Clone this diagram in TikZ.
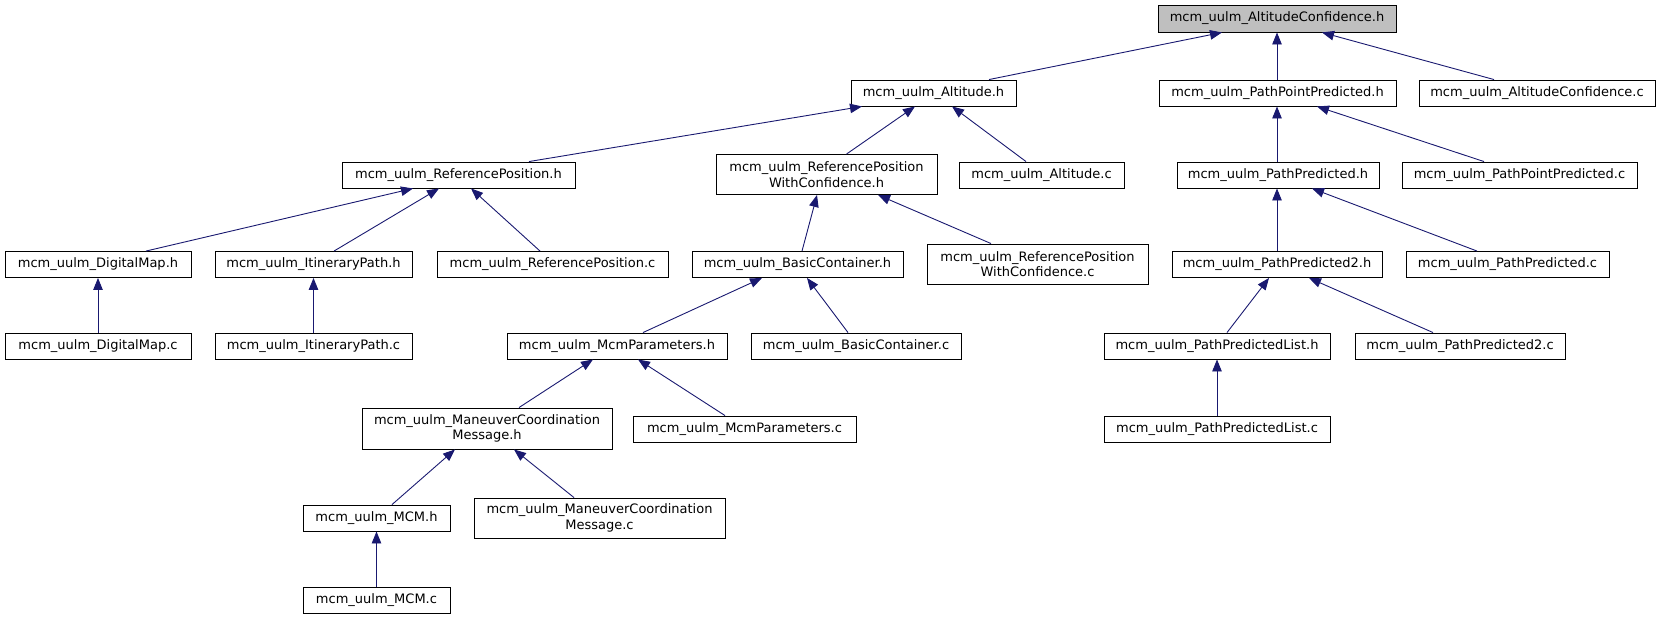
\documentclass[tikz,border=0pt]{standalone}
\usepackage{fontspec}
\setmainfont{DejaVu Sans}
\usetikzlibrary{arrows.meta}
\definecolor{edgecol}{HTML}{191970}
\definecolor{rootfill}{HTML}{BFBFBF}
\tikzset{
  box/.style={draw=black, line width=0.9pt, fill=white, inner sep=0pt, align=center,
    minimum height=26pt, font=\fontsize{13}{15.5}\selectfont},
  twoline/.style={minimum height=40pt},
  root/.style={fill=rootfill},
  edge/.style={draw=edgecol, line width=0.9pt, -{Triangle[length=12pt,width=9.5pt]}},
}
\begin{document}
\begin{tikzpicture}[x=1pt,y=-1pt]
\useasboundingbox (0,0) rectangle (1661,619);
% nodes
\node[box,root,minimum width=238pt,minimum height=27pt] (ach) at (1277,18.5) {mcm\_uulm\_AltitudeConfidence.h};
\node[box,minimum width=165pt] (alth) at (933.5,93) {mcm\_uulm\_Altitude.h};
\node[box,minimum width=237pt] (ppph) at (1277.5,93) {mcm\_uulm\_PathPointPredicted.h};
\node[box,minimum width=236pt] (acc) at (1537,93) {mcm\_uulm\_AltitudeConfidence.c};
\node[box,minimum width=233pt] (rph) at (458.5,175) {mcm\_uulm\_ReferencePosition.h};
\node[box,twoline,minimum width=221pt] (rpwch) at (826.5,174.5) {mcm\_uulm\_ReferencePosition\\WithConfidence.h};
\node[box,minimum width=165pt] (altc) at (1041.5,175) {mcm\_uulm\_Altitude.c};
\node[box,minimum width=202pt] (pph) at (1278,175) {mcm\_uulm\_PathPredicted.h};
\node[box,minimum width=235pt] (pppc) at (1519.5,175) {mcm\_uulm\_PathPointPredicted.c};
\node[box,minimum width=186pt] (dmh) at (98,264.5) {mcm\_uulm\_DigitalMap.h};
\node[box,minimum width=197pt] (iph) at (313.5,264.5) {mcm\_uulm\_ItineraryPath.h};
\node[box,minimum width=231pt] (rpc) at (552.5,264.5) {mcm\_uulm\_ReferencePosition.c};
\node[box,minimum width=211pt] (bch) at (797.5,264.5) {mcm\_uulm\_BasicContainer.h};
\node[box,twoline,minimum width=221pt] (rpwcc) at (1037.5,264) {mcm\_uulm\_ReferencePosition\\WithConfidence.c};
\node[box,minimum width=210pt] (pp2h) at (1277,264.5) {mcm\_uulm\_PathPredicted2.h};
\node[box,minimum width=203pt] (ppc) at (1507.5,264.5) {mcm\_uulm\_PathPredicted.c};
\node[box,minimum width=186pt] (dmc) at (98,346) {mcm\_uulm\_DigitalMap.c};
\node[box,minimum width=197pt] (ipc) at (313.5,346) {mcm\_uulm\_ItineraryPath.c};
\node[box,minimum width=220pt] (mph) at (617,346) {mcm\_uulm\_McmParameters.h};
\node[box,minimum width=210pt] (bcc) at (856,346) {mcm\_uulm\_BasicContainer.c};
\node[box,minimum width=226pt] (pplh) at (1217,346) {mcm\_uulm\_PathPredictedList.h};
\node[box,minimum width=210pt] (pp2c) at (1460,346) {mcm\_uulm\_PathPredicted2.c};
\node[box,twoline,minimum width=250pt,minimum height=41pt] (mmh) at (487,428.5) {mcm\_uulm\_ManeuverCoordination\\Message.h};
\node[box,minimum width=223pt] (mpc) at (744.5,429) {mcm\_uulm\_McmParameters.c};
\node[box,minimum width=226pt] (pplc) at (1217,429) {mcm\_uulm\_PathPredictedList.c};
\node[box,minimum width=147pt] (mcmh) at (376.5,518) {mcm\_uulm\_MCM.h};
\node[box,twoline,minimum width=251pt] (mmc) at (599.5,518) {mcm\_uulm\_ManeuverCoordination\\Message.c};
\node[box,minimum width=147pt] (mcmc) at (376.5,600) {mcm\_uulm\_MCM.c};
% edges (child -> parent)
\draw[edge] ([xshift=55.5pt]alth.north) -- ([xshift=-55pt]ach.south);
\draw[edge] ([xshift=-0.5pt]ppph.north) -- (ach.south);
\draw[edge] ([xshift=-43pt]acc.north) -- ([xshift=45pt]ach.south);
\draw[edge] ([xshift=70.5pt]rph.north) -- ([xshift=-71.5pt]alth.south);
\draw[edge] ([xshift=20pt]rpwch.north) -- ([xshift=-18.5pt]alth.south);
\draw[edge] ([xshift=-15.5pt]altc.north) -- ([xshift=18.5pt]alth.south);
\draw[edge] ([xshift=-1pt]pph.north) -- ([xshift=-0.5pt]ppph.south);
\draw[edge] ([xshift=-35.5pt]pppc.north) -- ([xshift=39.5pt]ppph.south);
\draw[edge] ([xshift=48pt]dmh.north) -- ([xshift=-45.5pt]rph.south);
\draw[edge] ([xshift=20.5pt]iph.north) -- ([xshift=-19.5pt]rph.south);
\draw[edge] ([xshift=-12.5pt]rpc.north) -- ([xshift=12.5pt]rph.south);
\draw[edge] ([xshift=4.5pt]bch.north) -- ([xshift=-9.5pt]rpwch.south);
\draw[edge] ([xshift=-46.5pt]rpwcc.north) -- ([xshift=51.5pt]rpwch.south);
\draw[edge] (pp2h.north) -- ([xshift=-1pt]pph.south);
\draw[edge] ([xshift=-30.5pt]ppc.north) -- ([xshift=34pt]pph.south);
\draw[edge] (dmc.north) -- (dmh.south);
\draw[edge] (ipc.north) -- (iph.south);
\draw[edge] ([xshift=26pt]mph.north) -- ([xshift=-35.5pt]bch.south);
\draw[edge] ([xshift=-8pt]bcc.north) -- ([xshift=9.5pt]bch.south);
\draw[edge] ([xshift=10pt]pplh.north) -- ([xshift=-8pt]pp2h.south);
\draw[edge] ([xshift=-27pt]pp2c.north) -- ([xshift=32pt]pp2h.south);
\draw[edge] ([xshift=32pt]mmh.north) -- ([xshift=-24pt]mph.south);
\draw[edge] ([xshift=-19.5pt]mpc.north) -- ([xshift=21pt]mph.south);
\draw[edge] (pplc.north) -- (pplh.south);
\draw[edge] ([xshift=15.5pt]mcmh.north) -- ([xshift=-32pt]mmh.south);
\draw[edge] ([xshift=-25.5pt]mmc.north) -- ([xshift=27pt]mmh.south);
\draw[edge] (mcmc.north) -- (mcmh.south);
\end{tikzpicture}
\end{document}
